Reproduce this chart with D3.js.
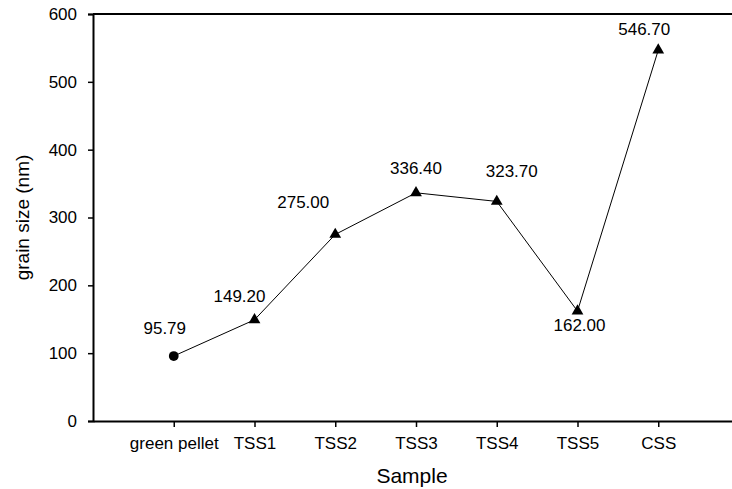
<!DOCTYPE html>
<html>
<head>
<meta charset="utf-8">
<script src="https://cdn.jsdelivr.net/npm/d3@7"></script>
<style>
  body { margin: 0; background: #fff; }
  text { font-family: "Liberation Sans", Arial, sans-serif; fill: #000; }
</style>
</head>
<body>
<div id="app"></div>
<script>
// sample names and measured grain sizes
var samples = ["green pellet", "TSS1", "TSS2", "TSS3", "TSS4", "TSS5", "CSS"];
var grainSize = [95.79, 149.20, 275.00, 336.40, 323.70, 162.00, 546.70];
var valueLabels = ["95.79", "149.20", "275.00", "336.40", "323.70", "162.00", "546.70"];
var yTicks = [0, 100, 200, 300, 400, 500, 600];

var width = 732, height = 489;
var margin = { left: 93, top: 14, bottom: 68 };
var plotW = 646;

var svg = d3.select("#app").append("svg")
  .attr("width", width)
  .attr("height", height);

var x = d3.scaleLinear().domain([0, 8]).range([margin.left, margin.left + plotW]);
var y = d3.scaleLinear().domain([0, 600]).range([height - margin.bottom, margin.top]);

// top frame line
svg.append("line")
  .attr("x1", x(0)).attr("x2", x(8))
  .attr("y1", y(600)).attr("y2", y(600))
  .attr("stroke", "#000").attr("stroke-width", 2);

// y axis
var yAxis = svg.append("g")
  .attr("transform", "translate(" + x(0) + ",0)")
  .call(d3.axisLeft(y).tickValues(yTicks).tickSize(5).tickPadding(11));
yAxis.select(".domain").attr("stroke-width", 2);
yAxis.selectAll("line").attr("stroke-width", 1.5);
yAxis.selectAll("text").style("font-size", "17px").attr("fill", "#000")
  .style("font-family", "Liberation Sans, Arial, sans-serif");

// x axis
var xAxis = svg.append("g")
  .attr("transform", "translate(0," + y(0) + ")")
  .call(d3.axisBottom(x).tickValues(d3.range(1, samples.length + 1))
    .tickFormat(function(d) { return samples[d - 1]; })
    .tickSize(6).tickSizeOuter(0).tickPadding(10));
xAxis.select(".domain").attr("stroke-width", 2);
xAxis.selectAll("line").attr("stroke-width", 1.5);
xAxis.selectAll("text").style("font-size", "17px").attr("fill", "#000")
  .style("font-family", "Liberation Sans, Arial, sans-serif");

// axis titles
svg.append("text")
  .attr("x", 412).attr("y", 483)
  .attr("text-anchor", "middle")
  .style("font-size", "21px")
  .text("Sample");

svg.append("text")
  .attr("transform", "translate(29," + ((y(0) + y(600)) / 2) + ") rotate(-90)")
  .attr("text-anchor", "middle")
  .style("font-size", "19px")
  .text("grain size (nm)");

var points = grainSize.map(function(v, i) { return { i: i + 1, v: v, label: valueLabels[i] }; });

// connecting line
svg.append("path")
  .datum(points)
  .attr("fill", "none")
  .attr("stroke", "#000")
  .attr("stroke-width", 1)
  .attr("d", d3.line().x(function(d) { return x(d.i); }).y(function(d) { return y(d.v); }));

// markers: circle for green pellet, triangles for the sintered samples
svg.selectAll(".marker")
  .data(points)
  .enter().append("path")
  .attr("class", "marker")
  .attr("transform", function(d) { return "translate(" + x(d.i) + "," + y(d.v) + ")"; })
  .attr("d", function(d, i) {
    return d3.symbol().type(i === 0 ? d3.symbolCircle : d3.symbolTriangle).size(i === 0 ? 75 : 60)();
  })
  .attr("fill", "#000");

// value labels, offsets tuned to the reference placement
var labelOffset = [[-9, -22], [-15, -18], [-32, -26], [0, -19], [15, -24], [2, 20], [-14, -15]];
svg.selectAll(".vlabel")
  .data(points)
  .enter().append("text")
  .attr("class", "vlabel")
  .attr("x", function(d, i) { return x(d.i) + labelOffset[i][0]; })
  .attr("y", function(d, i) { return y(d.v) + labelOffset[i][1]; })
  .attr("text-anchor", "middle")
  .style("font-size", "17px")
  .text(function(d) { return d.label; });
</script>
</body>
</html>
